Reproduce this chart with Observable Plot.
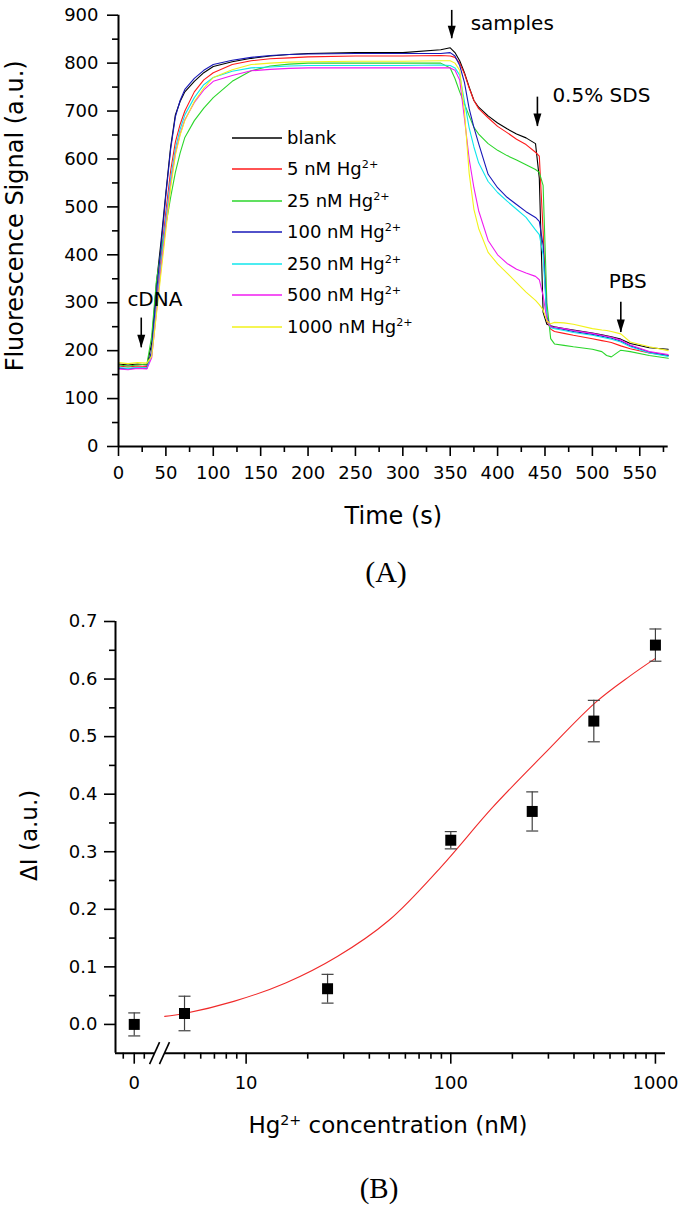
<!DOCTYPE html>
<html>
<head>
<meta charset="utf-8">
<script src="https://cdn.jsdelivr.net/npm/d3@7"></script>
<script src="https://cdn.jsdelivr.net/npm/@observablehq/plot@0.6"></script>
<style>
  body { margin: 0; background: #fff; }
  #root { position: relative; width: 685px; height: 1207px; overflow: hidden; background: #fff; font-family: "DejaVu Sans", sans-serif; color: #000; }
  .abs { position: absolute; }
  .sup { position: relative; top: -0.6em; font-size: 0.62em; vertical-align: baseline; }
</style>
</head>
<body>
<div id="root"></div>
<script>
// ---------------- Panel A data ----------------
const times = [0, 10, 20, 30, 35, 40, 45, 50, 55, 60, 65, 70, 80, 90, 100, 120, 140, 160, 180, 200, 250, 300, 340, 350, 355, 360, 365, 370, 375, 380, 390, 400, 410, 420, 430, 440, 444, 448, 452, 456, 460, 470, 480, 500, 510, 515, 520, 530, 540, 560, 580];
const blankSignal = [172, 170, 172, 170, 215, 340, 430, 530, 625, 692, 720, 740, 762, 780, 793, 803, 810, 815, 818, 820, 822, 822, 828, 832, 822, 805, 780, 750, 722, 708, 690, 675, 663, 652, 644, 632, 560, 280, 255, 252, 250, 246, 243, 237, 233, 231, 229, 224, 215, 206, 203];
const hg5Signal = [168, 166, 168, 167, 195, 300, 395, 490, 575, 635, 672, 700, 740, 765, 780, 797, 805, 809, 811, 813, 815, 815, 816, 815, 812, 800, 778, 748, 722, 705, 686, 668, 655, 641, 630, 614, 606, 450, 262, 245, 240, 236, 232, 225, 221, 219, 217, 210, 204, 195, 190];
const hg25Signal = [170, 168, 170, 172, 230, 345, 410, 462, 520, 572, 612, 645, 680, 706, 728, 762, 784, 794, 798, 800, 800, 800, 800, 790, 768, 740, 715, 690, 666, 652, 632, 618, 607, 598, 588, 578, 572, 545, 300, 225, 214, 211, 208, 203, 198, 190, 187, 201, 198, 190, 184];
const hg100Signal = [163, 162, 164, 163, 200, 320, 420, 525, 620, 688, 722, 745, 768, 785, 797, 806, 812, 816, 818, 819, 820, 820, 820, 822, 815, 795, 760, 705, 666, 632, 568, 540, 520, 505, 490, 478, 470, 420, 270, 250, 248, 244, 240, 234, 230, 228, 226, 220, 210, 197, 190];
const hg250Signal = [165, 163, 165, 164, 190, 290, 385, 475, 560, 622, 662, 692, 728, 755, 770, 783, 790, 792, 794, 795, 795, 795, 796, 795, 790, 775, 720, 665, 625, 592, 553, 530, 512, 495, 478, 452, 442, 400, 265, 248, 246, 242, 238, 232, 228, 226, 224, 218, 208, 195, 188];
const hg500Signal = [162, 160, 163, 162, 185, 280, 375, 462, 548, 612, 652, 682, 718, 744, 762, 774, 784, 787, 789, 790, 790, 790, 790, 790, 785, 765, 685, 600, 540, 492, 430, 400, 382, 370, 362, 355, 348, 315, 265, 250, 249, 246, 242, 236, 232, 230, 228, 222, 212, 198, 192];
const hg1000Signal = [175, 173, 175, 174, 188, 275, 365, 452, 540, 608, 650, 680, 720, 748, 770, 786, 797, 800, 802, 803, 804, 804, 805, 805, 800, 785, 700, 570, 495, 455, 405, 381, 362, 342, 322, 305, 296, 285, 262, 256, 259, 258, 255, 246, 243, 242, 240, 235, 218, 208, 200];

const seriesKeys = ["blank", "5 nM", "25 nM", "100 nM", "250 nM", "500 nM", "1000 nM"];
const seriesValues = [blankSignal, hg5Signal, hg25Signal, hg100Signal, hg250Signal, hg500Signal, hg1000Signal];
const seriesColors = ["#000000", "#ff1a1a", "#2bd62b", "#1818b8", "#10e6ec", "#f01cf0", "#f2f21a"];
const legendText = ["blank", "5 nM Hg", "25 nM Hg", "100 nM Hg", "250 nM Hg", "500 nM Hg", "1000 nM Hg"];
const legendSup = ["", "2+", "2+", "2+", "2+", "2+", "2+"];

// event annotations (time of injection, arrow extent in signal units, label)
const eventLabels = ["cDNA", "samples", "0.5% SDS", "PBS"];
const eventTimes = [24, 351.6, 442, 530];
const eventArrowTop = [268, 910, 729, 301];
const eventArrowTip = [206, 851, 668, 238];
const eventLabelTime = [38.4, 371.6, 457.8, 537.3];
const eventLabelSignal = [307, 883, 732, 345];
const eventLabelAlign = ["middle", "start", "start", "middle"];

const xTicksA = [0, 50, 100, 150, 200, 250, 300, 350, 400, 450, 500, 550];
const xMinorA = [25, 75, 125, 175, 225, 275, 325, 375, 425, 475, 525, 575];
const yTicksA = [0, 100, 200, 300, 400, 500, 600, 700, 800, 900];
const yMinorA = [50, 150, 250, 350, 450, 550, 650, 750, 850];

// ---------------- Panel B data ----------------
const concentrations = [0, 5, 25, 100, 250, 500, 1000];
const deltaI = [0.000, 0.019, 0.062, 0.320, 0.370, 0.527, 0.659];
const deltaIErr = [0.020, 0.030, 0.025, 0.015, 0.034, 0.036, 0.028];
const fitConc = [4.0, 5.0, 8.7, 15.6, 27.9, 49.9, 89.3, 160, 286, 512, 755, 1000];
const fitDeltaI = [0.014, 0.019, 0.040, 0.072, 0.118, 0.181, 0.273, 0.377, 0.470, 0.560, 0.606, 0.636];

const xDomainB = [2.3, 1120];
const zeroAxisPos = 2.84;              // where the broken-axis "0" sits on the log axis
const zeroSegmentMinor = [2.51, 3.18];  // minor ticks of the short linear "0" segment
const breakMarks = [3.57, 3.99];        // the two slashes of the axis break
const xTicksB = [zeroAxisPos, 10, 100, 1000];
const xMinorB = [...zeroSegmentMinor, 5, 6, 7, 8, 9, 20, 30, 40, 50, 60, 70, 80, 90, 200, 300, 400, 500, 600, 700, 800, 900];
const yTicksB = [0, 0.1, 0.2, 0.3, 0.4, 0.5, 0.6, 0.7];
const yMinorB = [0.05, 0.15, 0.25, 0.35, 0.45, 0.55, 0.65];

// ---------------- helpers ----------------
const arrowHead = { draw(ctx) { ctx.moveTo(-4, -13); ctx.lineTo(4, -13); ctx.lineTo(0, 0); ctx.closePath(); } };
const capSymbol = { draw(ctx) { ctx.moveTo(-6, 0); ctx.lineTo(6, 0); } };
const slashSymbol = { draw(ctx) { ctx.moveTo(-5, 11); ctx.lineTo(5, -11); } };

const root = document.getElementById("root");
function place(el, left, top) {
  const d = document.createElement("div");
  d.className = "abs";
  d.style.left = left + "px";
  d.style.top = top + "px";
  d.append(el);
  root.append(d);
  return d;
}

// ---------------- Panel A ----------------
const rowsA = seriesKeys.flatMap((key, i) => times.map((t, j) => ({ series: key, t, v: seriesValues[i][j] })));
const events = eventLabels.map((label, i) => ({
  label, t: eventTimes[i], top: eventArrowTop[i], tip: eventArrowTip[i],
  lt: eventLabelTime[i], ls: eventLabelSignal[i], align: eventLabelAlign[i]
}));

const chartA = Plot.plot({
  width: 685, height: 540,
  marginLeft: 118, marginRight: 17.3, marginTop: 14.7, marginBottom: 94,
  style: { fontFamily: "DejaVu Sans", fontSize: "18px", color: "#000", background: "transparent" },
  x: { domain: [0, 580] },
  y: { domain: [0, 900] },
  color: { type: "ordinal", domain: seriesKeys, range: seriesColors },
  marks: [
    Plot.line(rowsA, { x: "t", y: "v", z: "series", stroke: "series", strokeWidth: 1.1 }),
    Plot.ruleY([0], { stroke: "#000", strokeWidth: 2 }),
    Plot.ruleX([0], { stroke: "#000", strokeWidth: 2 }),
    Plot.axisX({ ticks: xTicksA, tickSize: 10, tickPadding: 10, strokeWidth: 1.6, label: null, tickFormat: d => String(d) }),
    Plot.axisX({ ticks: xMinorA, tickSize: 6, strokeWidth: 1.6, label: null, tickFormat: () => "" }),
    Plot.axisY({ ticks: yTicksA, tickSize: 11, tickPadding: 9, strokeWidth: 1.6, label: null, tickFormat: d => String(d) }),
    Plot.axisY({ ticks: yMinorA, tickSize: 6, strokeWidth: 1.6, label: null, tickFormat: () => "" }),
    Plot.ruleX(events, { x: "t", y1: "top", y2: "tip", stroke: "#000", strokeWidth: 1.6 }),
    Plot.dot(events, { x: "t", y: "tip", symbol: arrowHead, fill: "#000", stroke: "none" }),
    Plot.text(events.filter(d => d.align === "start"), { x: "lt", y: "ls", text: "label", textAnchor: "start", fontSize: 20 }),
    Plot.text(events.filter(d => d.align === "middle"), { x: "lt", y: "ls", text: "label", textAnchor: "middle", fontSize: 20 }),
    Plot.text(["Time (s)"], { frameAnchor: "bottom", textAnchor: "middle", lineAnchor: "middle", dy: 70, fontSize: 24 }),
    Plot.text(["Fluorescence Signal (a.u.)"], { frameAnchor: "left", textAnchor: "middle", lineAnchor: "middle", rotate: -90, dx: -103, dy: -15, fontSize: 24 })
  ]
});
place(chartA, 0, 0);

// legend for panel A
const svgNS = "http://www.w3.org/2000/svg";
seriesKeys.forEach((key, i) => {
  const row = document.createElement("div");
  row.style.cssText = "position:relative;width:200px;height:24px;white-space:nowrap;font:18px/24px 'DejaVu Sans';";
  const sw = document.createElementNS(svgNS, "svg");
  sw.setAttribute("width", "50");
  sw.setAttribute("height", "24");
  sw.style.cssText = "position:absolute;left:0;top:0;";
  const ln = document.createElementNS(svgNS, "line");
  ln.setAttribute("x1", "0"); ln.setAttribute("x2", "50");
  ln.setAttribute("y1", "12"); ln.setAttribute("y2", "12");
  ln.setAttribute("stroke", seriesColors[i]);
  ln.setAttribute("stroke-width", "1.3");
  sw.append(ln);
  const tx = document.createElement("div");
  tx.style.cssText = "position:absolute;left:55px;top:0;";
  tx.append(document.createTextNode(legendText[i]));
  if (legendSup[i]) {
    const s = document.createElement("span");
    s.className = "sup";
    s.textContent = legendSup[i];
    tx.append(s);
  }
  row.append(sw, tx);
  place(row, 232, Math.round(138 + i * 31.43) - 12);
});

// caption (A)
const capA = document.createElement("div");
capA.textContent = "(A)";
capA.style.cssText = "width:100px;text-align:center;font:30px/30px 'Liberation Serif',serif;";
place(capA, 336, 556.6);

// ---------------- Panel B ----------------
const xPos = c => (c === 0 ? zeroAxisPos : c);
const pointsB = concentrations.map((c, i) => ({ x: xPos(c), y: deltaI[i], lo: deltaI[i] - deltaIErr[i], hi: deltaI[i] + deltaIErr[i] }));
const capsB = pointsB.flatMap(d => [{ x: d.x, y: d.lo }, { x: d.x, y: d.hi }]);
const fitB = fitConc.map((c, i) => ({ x: c, y: fitDeltaI[i] }));
const axisSegmentsB = [
  { y: -0.05, x1: xDomainB[0], x2: breakMarks[0] },
  { y: -0.05, x1: breakMarks[1], x2: xDomainB[1] }
];
const slashes = breakMarks.map(x => ({ x, y: -0.05 }));

const chartB = Plot.plot({
  width: 685, height: 560,
  marginLeft: 115, marginRight: 20, marginTop: 21, marginBottom: 107.3,
  style: { fontFamily: "DejaVu Sans", fontSize: "18px", color: "#000", background: "transparent" },
  x: { type: "log", domain: xDomainB },
  y: { domain: [-0.05, 0.7] },
  marks: [
    Plot.ruleX([xDomainB[0]], { stroke: "#000", strokeWidth: 2 }),
    Plot.ruleY(axisSegmentsB, { y: "y", x1: "x1", x2: "x2", stroke: "#000", strokeWidth: 2 }),
    Plot.dot(slashes, { x: "x", y: "y", symbol: slashSymbol, fill: "none", stroke: "#000", strokeWidth: 1.6 }),
    Plot.axisY({ ticks: yTicksB, tickSize: 11, tickPadding: 7, strokeWidth: 1.6, label: null, tickFormat: d3.format(".1f") }),
    Plot.axisY({ ticks: yMinorB, tickSize: 6, strokeWidth: 1.6, label: null, tickFormat: () => "" }),
    Plot.axisX({ ticks: xTicksB, tickSize: 11, tickPadding: 12, strokeWidth: 1.6, label: null, tickFormat: d => (d === zeroAxisPos ? "0" : String(d)) }),
    Plot.axisX({ ticks: xMinorB, tickSize: 6, strokeWidth: 1.6, label: null, tickFormat: () => "" }),
    Plot.line(fitB, { x: "x", y: "y", stroke: "#f02a2a", strokeWidth: 1.1, curve: "catmull-rom" }),
    Plot.ruleX(pointsB, { x: "x", y1: "lo", y2: "hi", stroke: "#404040", strokeWidth: 1.2 }),
    Plot.dot(capsB, { x: "x", y: "y", symbol: capSymbol, fill: "none", stroke: "#404040", strokeWidth: 1.2 }),
    Plot.dot(pointsB, { x: "x", y: "y", symbol: "square", r: 6.2, fill: "#000", stroke: "none" }),
    Plot.text(["ΔI (a.u.)"], { frameAnchor: "left", textAnchor: "middle", lineAnchor: "middle", rotate: -90, dx: -86, dy: -2, fontSize: 23 })
  ]
});
place(chartB, 0, 600);

// x title of panel B (with superscript)
const xTitleB = document.createElement("div");
xTitleB.style.cssText = "width:550px;text-align:center;font:23px/23px 'DejaVu Sans';white-space:nowrap;";
xTitleB.innerHTML = 'Hg<span class="sup">2+</span> concentration (nM)';
place(xTitleB, 113, 1114.3);

// caption (B)
const capB = document.createElement("div");
capB.textContent = "(B)";
capB.style.cssText = "width:100px;text-align:center;font:29px/29px 'Liberation Serif',serif;";
place(capB, 329, 1173.7);
</script>
</body>
</html>
